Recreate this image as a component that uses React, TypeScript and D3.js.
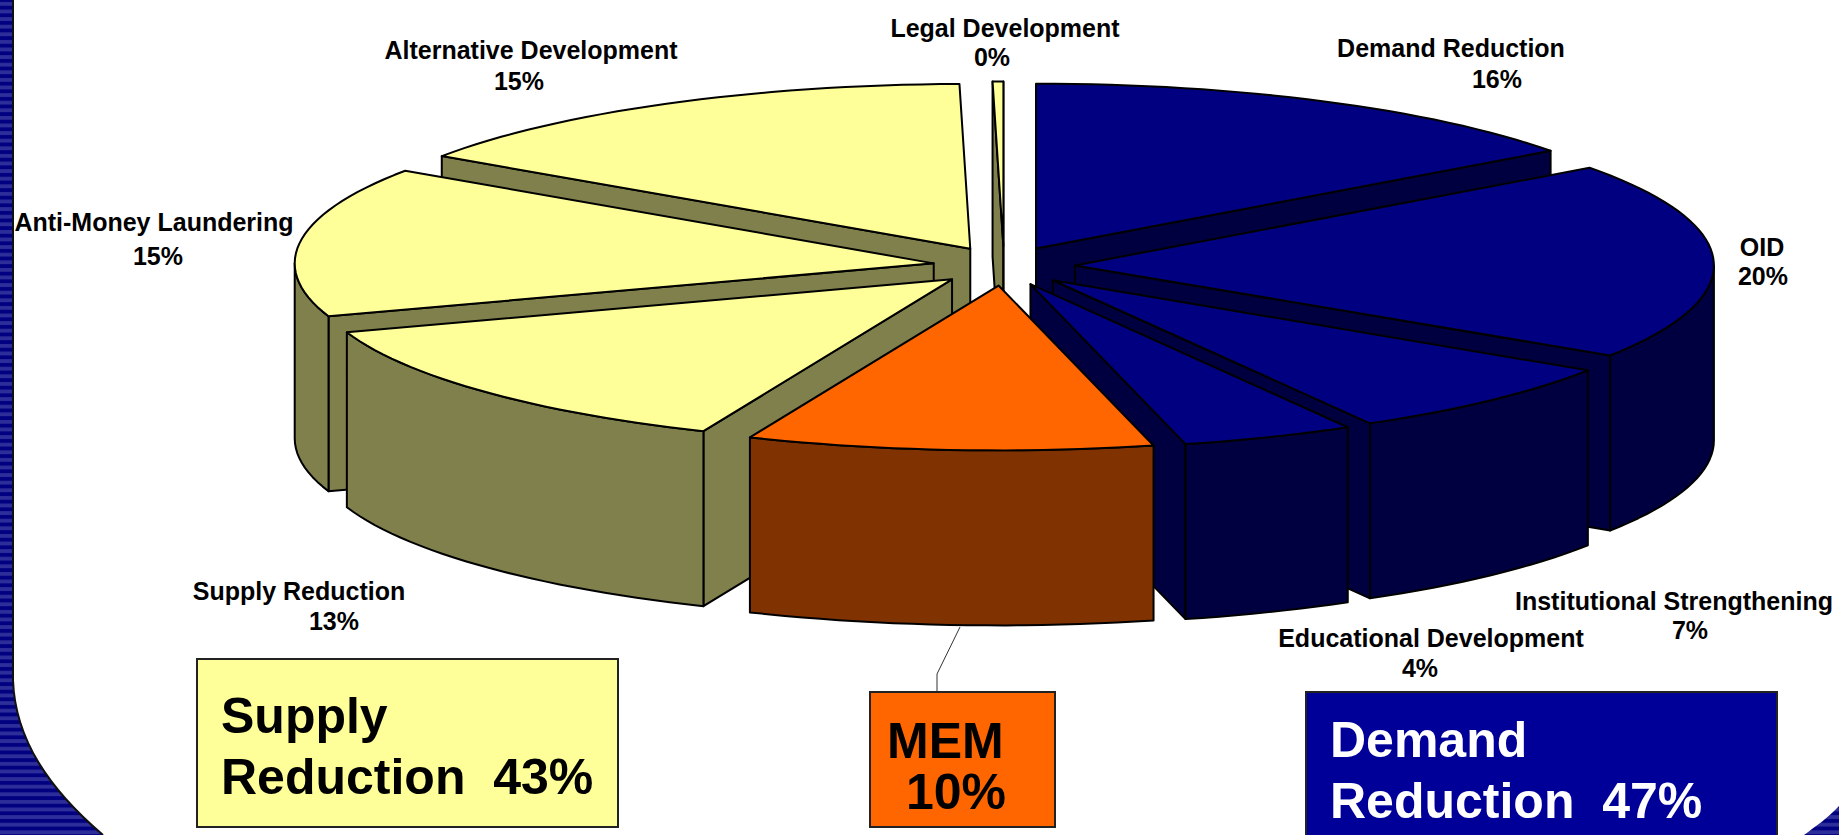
import React from "react";
import * as d3 from "d3";

// Slice shares (the printed percentages are rounded)
const categories = [
  "Demand Reduction",
  "OID",
  "Institutional Strengthening",
  "Educational Development",
  "MEM",
  "Supply Reduction",
  "Anti-Money Laundering",
  "Alternative Development",
  "Legal Development",
];
const sliceValues = [14.9, 19.3, 7.53, 4.37, 10.26, 13.44, 14.7, 15.23, 0.27];
const printedPercents = [16, 20, 7, 4, 10, 13, 15, 15, 0];
const sliceGroups = ["demand", "demand", "demand", "demand", "mem", "supply", "supply", "supply", "supply"];

const summaryLines = [
  { group: "supply", lines: ["Supply", "Reduction  43%"] },
  { group: "mem", lines: ["MEM", "10%"] },
  { group: "demand", lines: ["Demand", "Reduction  47%"] },
];

// Layout, kept apart from the values
const WIDTH = 1839;
const HEIGHT = 835;
const CX = 1004;
const CY = 266;
const RADIUS = 639;
const TILT = 0.258;
const DEPTH = 175;
const EXPLODE = 0.111;
const EXPLODE_Y = 1.07; // the gap looks a little taller than the flat tilt gives
const FONT = "'Liberation Sans', Arial, sans-serif";

const groupColors: Record<string, { top: string; wall: string; box: string; text: string }> = {
  demand: { top: "#000080", wall: "#000040", box: "#000099", text: "#ffffff" },
  mem: { top: "#ff6600", wall: "#803300", box: "#ff6600", text: "#000000" },
  supply: { top: "#ffff99", wall: "#80804d", box: "#ffff99", text: "#000000" },
};

// name centre x, name baseline, percent centre x, percent baseline
const labelAnchors = [
  [1451, 57, 1497, 88],
  [1762, 256, 1763, 285],
  [1674, 610, 1690, 639],
  [1431, 647, 1420, 677],
  null,
  [299, 600, 334, 630],
  [154, 231, 158, 265],
  [531, 59, 519, 90],
  [1005, 37, 992, 66],
];

const boxLayout = [
  { x: 197, y: 659, w: 421, h: 168, tx: [221, 221], ty: [733, 794] },
  { x: 870, y: 692, w: 185, h: 135, tx: [887, 906], ty: [758, 809] },
  { x: 1306, y: 692, w: 471, h: 155, tx: [1330, 1330], ty: [757, 818] },
];

const xScale = d3.scaleLinear().domain([-1, 1]).range([CX - RADIUS, CX + RADIUS]);
const yScale = d3.scaleLinear().domain([-1, 1]).range([CY - RADIUS * TILT, CY + RADIUS * TILT]);

const line = d3.line();
const TAU = Math.PI * 2;

const project = (p: [number, number], off: [number, number], drop = 0): [number, number] => [
  xScale(p[0] + off[0]),
  yScale(p[1] + off[1]) + drop,
];

const arcAngles = (a0: number, a1: number) => {
  const n = Math.max(2, Math.ceil((a1 - a0) / 0.03));
  return d3.range(n + 1).map((i) => a0 + ((a1 - a0) * i) / n);
};

const slices = d3
  .pie<number>()
  .sort(null)
  .value((d) => d)(sliceValues)
  .map((arc, i) => {
    const mid = (arc.startAngle + arc.endAngle) / 2;
    const p = d3.pointRadial(mid, EXPLODE);
    const off: [number, number] = [p[0], p[1] * EXPLODE_Y];
    return { i, a0: arc.startAngle, a1: arc.endAngle, mid, off };
  })
  // paint from the back of the pie towards the viewer
  .sort((a, b) => d3.descending(Math.cos(a.mid), Math.cos(b.mid)));

const Slice = ({ s }: { s: (typeof slices)[number] }) => {
  const c = groupColors[sliceGroups[s.i]];
  const apex = project([0, 0], s.off);
  const rim = (a: number, drop = 0) => project(d3.pointRadial(a, 1) as [number, number], s.off, drop);
  const topFace = [apex, ...arcAngles(s.a0, s.a1).map((a) => rim(a))];
  const sideWall = (a: number) => [apex, rim(a), rim(a, DEPTH), [apex[0], apex[1] + DEPTH]] as [number, number][];
  const walls: [number, number][][] = [];
  // a radial wall shows only if it faces the viewer
  if (Math.sin(s.a0) < 0) walls.push(sideWall(s.a0));
  if (Math.sin(s.a1) > 0) walls.push(sideWall(s.a1));
  const w0 = Math.max(s.a0, TAU / 4);
  const w1 = Math.min(s.a1, (TAU * 3) / 4);
  if (w1 > w0) {
    const angles = arcAngles(w0, w1);
    walls.push([...angles.map((a) => rim(a)), ...angles.slice().reverse().map((a) => rim(a, DEPTH))]);
  }
  return (
    <g stroke="#000" strokeWidth={2} strokeLinejoin="round">
      {walls.map((w, k) => (
        <path key={k} d={line(w) + "Z"} fill={c.wall} />
      ))}
      <path d={line(topFace) + "Z"} fill={c.top} />
    </g>
  );
};

export default function App() {
  return (
    <svg
      width={WIDTH}
      height={HEIGHT}
      viewBox={`0 0 ${WIDTH} ${HEIGHT}`}
      style={{ position: "absolute", left: 0, top: 0, display: "block", background: "#fff" }}
    >
      <defs>
        <pattern id="stripes" width={8} height={7.6} patternUnits="userSpaceOnUse">
          <rect width={8} height={7.6} fill="#000080" />
          <rect y={2} width={8} height={3.8} fill="#2e2e9a" />
        </pattern>
      </defs>

      {/* slide frame */}
      <path d="M0,0 L13,0 L13,680 C15,740 50,790 103,835 L0,835 Z" fill="url(#stripes)" />
      <path d="M13,0 L13,680 C15,740 50,790 103,835" fill="none" stroke="#111" strokeWidth={2} />
      <path d="M1839,806 C1828,818 1816,826 1804,835 L1839,835 Z" fill="url(#stripes)" />

      {slices.map((s) => (
        <Slice key={s.i} s={s} />
      ))}

      {/* MEM leader line */}
      <polyline points="960,627 937,674 937,692" fill="none" stroke="#333" strokeWidth={1} />

      <g fontFamily={FONT} fontWeight="bold" fontSize={25} fill="#000" textAnchor="middle">
        {categories.map((name, i) => {
          const a = labelAnchors[i];
          if (!a) return null;
          return (
            <g key={name}>
              <text x={a[0]} y={a[1]}>{name}</text>
              <text x={a[2]} y={a[3]}>{printedPercents[i]}%</text>
            </g>
          );
        })}
      </g>

      {summaryLines.map((b, i) => {
        const c = groupColors[b.group];
        const l = boxLayout[i];
        return (
          <g key={b.group}>
            <rect x={l.x} y={l.y} width={l.w} height={l.h} fill={c.box} stroke="#222" strokeWidth={2} />
            {b.lines.map((t, k) => (
              <text
                key={t}
                x={l.tx[k]}
                y={l.ty[k]}
                fontFamily={FONT}
                fontWeight="bold"
                fontSize={50}
                fill={c.text}
                style={{ whiteSpace: "pre" }}
              >
                {t}
              </text>
            ))}
          </g>
        );
      })}
    </svg>
  );
}
